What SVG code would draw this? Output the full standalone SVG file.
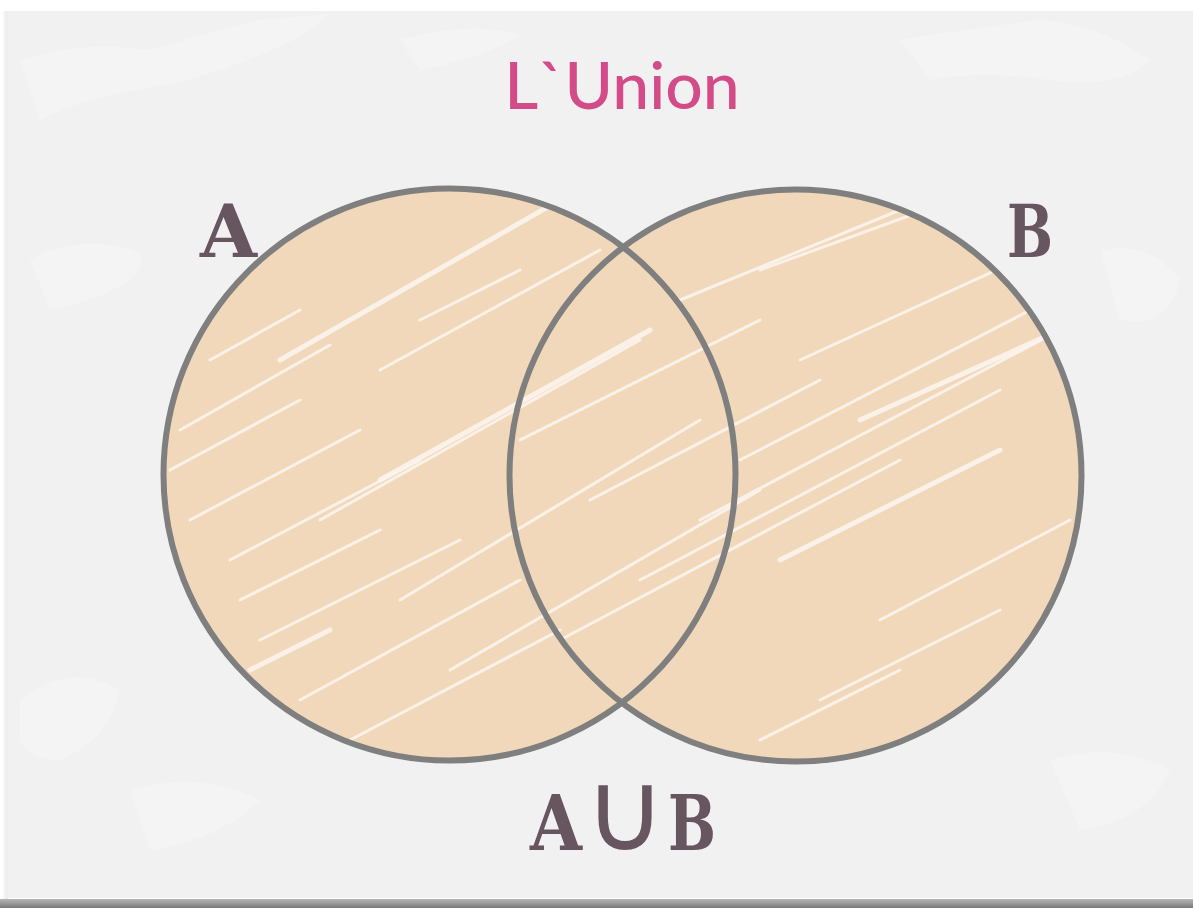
<svg xmlns="http://www.w3.org/2000/svg" width="1193" height="908" viewBox="0 0 1193 908">
<defs>
<style>
.lbl{font-family:"DejaVu Serif","Liberation Serif",serif;font-weight:bold;fill:#67565f;}
.ring{fill:none;stroke:#7f7f7f;stroke-width:6;}
.disc{fill:#f1d8bb;}
.st{stroke:#fbf6f0;stroke-linecap:round;fill:none;opacity:0.85;}
</style>
<linearGradient id="shb" x1="0" y1="0" x2="0" y2="1">
<stop offset="0" stop-color="#b5b5b5"/><stop offset="1" stop-color="#7a7a7a"/>
</linearGradient>
<linearGradient id="shl" x1="0" y1="0" x2="1" y2="0">
<stop offset="0" stop-color="#ffffff"/><stop offset="1" stop-color="#e6e6e6"/>
</linearGradient>
<clipPath id="uc">
<circle cx="449.5" cy="474.5" r="286"/>
<circle cx="795.5" cy="475.5" r="286"/>
</clipPath>
</defs>
<rect width="1193" height="908" fill="#ffffff"/>
<rect x="0" y="899" width="1193" height="9" fill="url(#shb)"/>
<rect x="2" y="11" width="6" height="888" fill="url(#shl)"/>
<rect x="7" y="11" width="1186" height="887" fill="#f1f1f1"/>
<g fill="#f4f4f4">
<path d="M20 60 Q80 40 150 50 Q200 35 260 20 L330 14 Q300 40 260 55 Q200 80 140 90 Q90 95 40 120 Z"/>
<path d="M30 260 Q60 240 110 245 Q160 250 130 280 Q100 300 50 310 Z"/>
<path d="M900 40 Q960 30 1040 20 Q1100 25 1150 60 Q1120 90 1050 80 Q980 70 930 80 Z"/>
<path d="M1100 250 Q1150 240 1180 280 Q1170 330 1120 320 Z"/>
<path d="M20 700 Q70 660 120 690 Q110 740 60 760 Q30 760 20 740 Z"/>
<path d="M1050 760 Q1110 740 1170 770 Q1150 820 1080 830 Z"/>
<path d="M400 40 Q470 20 520 35 Q480 60 420 70 Z"/>
<path d="M130 790 Q200 770 260 800 Q220 840 150 850 Z"/>
</g>
<g id="nodeA">
<circle class="disc" cx="449.5" cy="474.5" r="286"/>
</g>
<g id="nodeB">
<circle class="disc" cx="795.5" cy="475.5" r="286"/>
</g>
<g clip-path="url(#uc)">
<path class="st" stroke-width="3" d="M180 430 L330 345 M170 470 L300 400 M190 520 L360 430 M230 560 L420 460 M260 640 L460 540 M300 700 L520 580 M350 740 L560 630 M420 320 L520 270 M380 370 L600 250 M320 520 L640 340 M400 600 L700 420 M450 670 L760 490 M560 640 L900 460 M640 580 L1000 390 M700 520 L1060 330 M740 460 L1050 300 M680 300 L900 210 M760 270 L980 190 M800 360 L1040 250 M820 700 L1000 610 M760 740 L900 670 M880 620 L1070 520 M520 440 L760 320 M590 500 L820 380 M240 600 L380 530 M210 360 L300 310"/>
<path class="st" stroke-width="5" d="M280 360 L560 200 M380 480 L650 330 M250 670 L330 630 M860 420 L1060 330 M780 560 L1000 450"/>
</g>
<g id="connectors"></g>
<circle class="ring" cx="449.5" cy="474.5" r="286"/>
<circle class="ring" cx="795.5" cy="475.5" r="286"/>
<text x="622" y="109" text-anchor="middle" font-family="Lato,'Noto Sans',sans-serif" font-size="66" font-weight="500" fill="#d34c89">L`Union</text>
<text class="lbl" x="200" y="257" font-size="72" textLength="57" lengthAdjust="spacingAndGlyphs">A</text>
<text class="lbl" x="1007" y="257" font-size="72" textLength="46" lengthAdjust="spacingAndGlyphs">B</text>
<g id="union-label">
<text class="lbl" x="530" y="850" font-size="76" textLength="52" lengthAdjust="spacingAndGlyphs">A</text>
<text x="625" y="850" text-anchor="middle" font-family="Inter,'DejaVu Sans',sans-serif" font-weight="100" font-size="112" fill="#67565f">∪</text>
<text class="lbl" x="668" y="850" font-size="76" textLength="48" lengthAdjust="spacingAndGlyphs">B</text>
</g>
</svg>
